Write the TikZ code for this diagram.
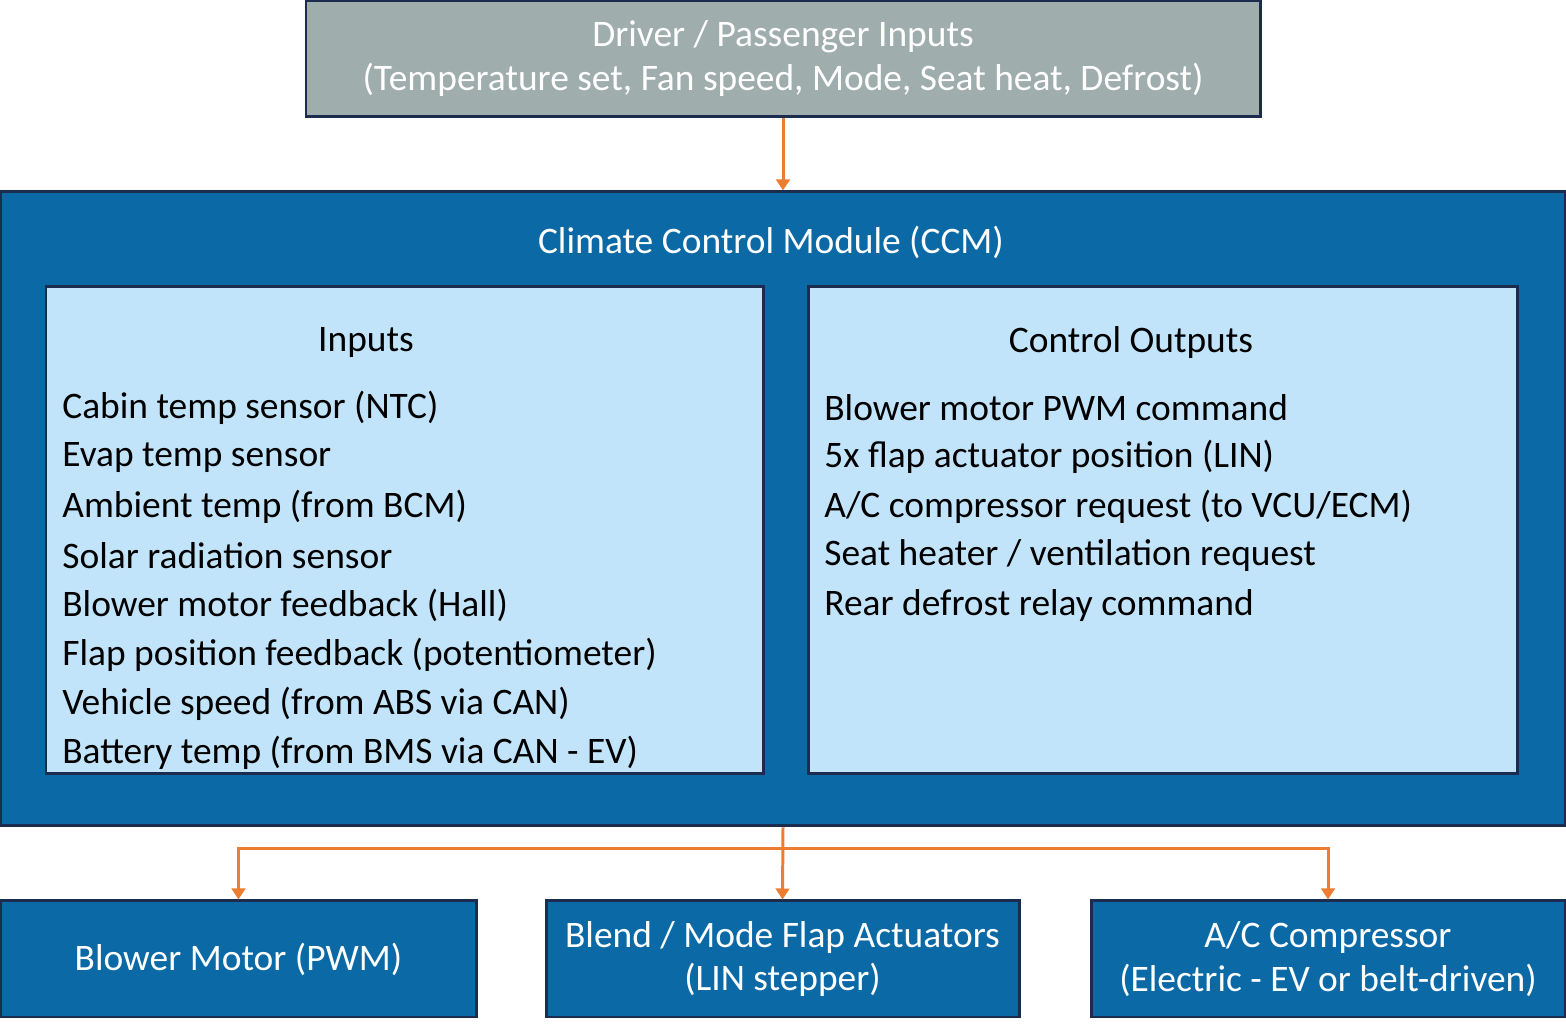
\documentclass[tikz,border=0pt]{standalone}
\usepackage{fontspec}
\setmainfont{Carlito}
\usetikzlibrary{arrows.meta}
\definecolor{ccmblue}{HTML}{0B69A5}
\definecolor{panelblue}{HTML}{C2E4FA}
\definecolor{inputgray}{HTML}{A0ADAD}
\definecolor{edgenavy}{HTML}{1B2C4F}
\definecolor{linkorange}{HTML}{ED7D31}
\begin{document}
\begin{tikzpicture}[>={Triangle[width=0.27cm,length=0.22cm]},
    box/.style={rectangle,draw=edgenavy,line width=1.7pt,inner sep=0pt},
    bluebox/.style={box,fill=ccmblue,text=white,align=center,minimum height=2.32cm},
    panel/.style={box,fill=panelblue,minimum width=#1,minimum height=9.74cm},
    item/.style={anchor=west,inner sep=0pt,text=black},
    link/.style={->,draw=linkorange,line width=1.7pt}]
    \useasboundingbox (0,0) rectangle (31.32,20.56);
    \fontsize{21.3}{25}\selectfont

    \node[box,fill=inputgray,text=white,align=center,minimum width=19.08cm,minimum height=2.32cm] (driver) at (15.66,19.38)
        {Driver / Passenger Inputs\\(Temperature set, Fan speed, Mode, Seat heat, Defrost)};

    \node[box,fill=ccmblue,minimum width=31.28cm,minimum height=12.68cm] (ccm) at (15.66,10.38) {};
    \node[text=white] (ccmtitle) at (15.42,15.72) {Climate Control Module (CCM)};
    \draw[link] (driver) -- (ccm);

    \node[panel=14.34cm] (inputs) at (8.09,9.95) {};
    \node[panel=14.18cm] (outputs) at (23.25,9.95) {};
    \node (intitle) at (7.32,13.70) {Inputs};
    \node (outtitle) at (22.62,13.70) {Control Outputs};

    \foreach \txt [count=\i] in {Cabin temp sensor (NTC),Evap temp sensor,Ambient temp (from BCM),
        Solar radiation sensor,Blower motor feedback (Hall),Flap position feedback (potentiometer),
        Vehicle speed (from ABS via CAN),Battery temp (from BMS via CAN - EV)}
        \node[item] (in\i) at (1.24,{12.40-0.986*(\i-1)}) {\txt};

    \foreach \txt [count=\i] in {Blower motor PWM command,5x flap actuator position (LIN),
        A/C compressor request (to VCU/ECM),Seat heater / ventilation request,Rear defrost relay command}
        \node[item] (out\i) at (16.48,{12.40-0.986*(\i-1)}) {\txt};

    \node[bluebox,minimum width=9.50cm] (blower) at (4.77,1.38) {Blower Motor (PWM)};
    \node[bluebox,minimum width=9.46cm] (flaps) at (15.65,1.38) {Blend / Mode Flap Actuators\\(LIN stepper)};
    \node[bluebox,minimum width=9.48cm] (comp) at (26.56,1.38) {A/C Compressor\\(Electric - EV or belt-driven)};

    \coordinate (split) at (15.66,3.58);
    \draw[link] (ccm.south) -- (flaps.north);
    \draw[link] (split) -| (blower.north);
    \draw[link] (split) -| (comp.north);
\end{tikzpicture}
\end{document}
